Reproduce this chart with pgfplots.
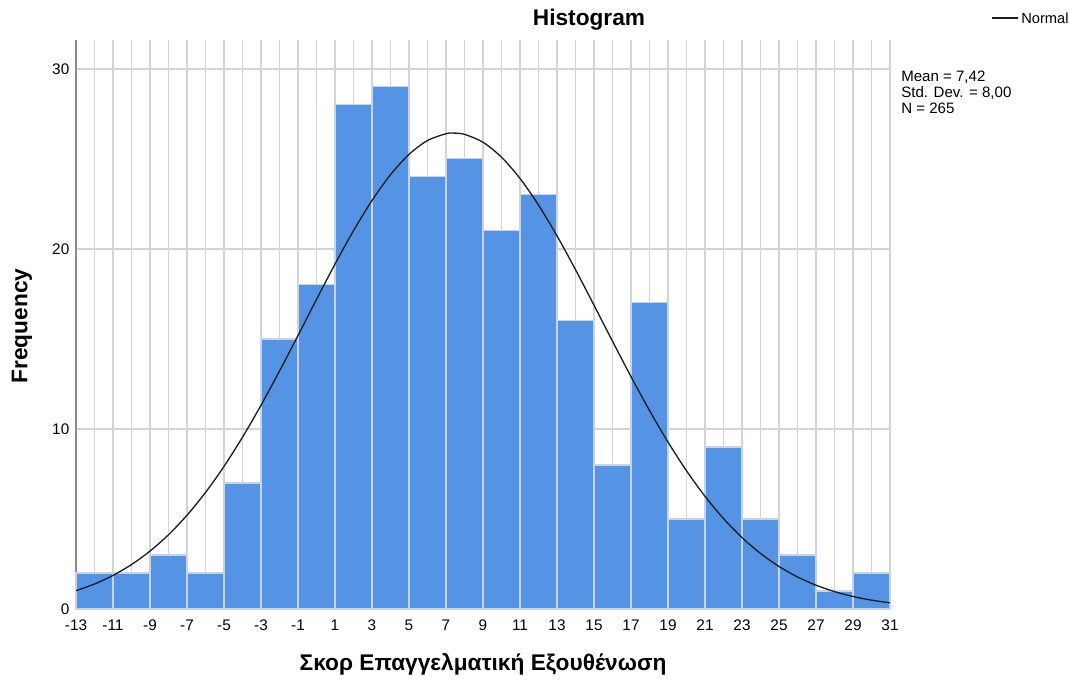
\documentclass[border=0pt]{standalone}
\usepackage{fontspec}
\setmainfont{Liberation Sans}
\usepackage{pgfplots}
\pgfplotsset{compat=1.18}

\definecolor{barblue}{RGB}{85,148,228}
\definecolor{baredge}{RGB}{200,212,230}
\definecolor{gridgray}{RGB}{212,212,212}

\begin{document}
\begin{tikzpicture}
\useasboundingbox (0,0) rectangle (802.5pt,509.25pt);
\begin{axis}[
  at={(57pt,52.5pt)}, anchor=south west,
  scale only axis,
  width=610.5pt, height=426.75pt,
  xmin=-13, xmax=31, ymin=0, ymax=31.6,
  axis lines*=left,
  x axis line style={-, draw={rgb,255:red,185;green,185;blue,185}, line width=1.1pt},
  y axis line style={-, draw={rgb,255:red,140;green,140;blue,140}, line width=1.1pt},
  xtick={-13,-11,...,31},
  minor xtick={-12,-10,...,30},
  ytick={0,10,20,30},
  major tick length=0pt, minor tick length=0pt,
  xmajorgrids, xminorgrids, ymajorgrids,
  grid style={draw=gridgray, line width=1.1pt},
  minor grid style={draw=gridgray, line width=1.1pt},
  /pgf/number format/assume math mode=true,
  tick label style={font=\fontsize{11.5}{13}\selectfont},
  xticklabel style={yshift=-4.5pt},
  yticklabel style={xshift=-1.5pt},
  clip=false,
]
% histogram counts, bins of width 2
\addplot[ybar interval, fill=barblue, draw=baredge, line width=0.9pt] coordinates {
  (-13,2) (-11,2) (-9,3) (-7,2) (-5,7) (-3,15) (-1,18) (1,28) (3,29) (5,24)
  (7,25) (9,21) (11,23) (13,16) (15,8) (17,17) (19,5) (21,9) (23,5) (25,3)
  (27,1) (29,2) (31,2)
};
% fitted normal curve (mean 7.42, sd 8.00, N 265, bin width 2)
\addplot[smooth, draw={rgb,255:red,30;green,30;blue,30}, line width=1pt] coordinates {
  (-13,1.017) (-12,1.389) (-11,1.866) (-10,2.468) (-9,3.216) (-8,4.124)
  (-7,5.207) (-6,6.472) (-5,7.920) (-4,9.541) (-3,11.316) (-2,13.213)
  (-1,15.190) (0,17.191) (1,19.154) (2,21.009) (3,22.689) (4,24.121)
  (5,25.248) (6,26.017) (7,26.394) (7.42,26.43) (8,26.360) (9,25.920)
  (10,25.091) (11,23.912) (12,22.435) (13,20.723) (14,18.845) (15,16.871)
  (16,14.870) (17,12.904) (18,11.023) (19,9.271) (20,7.676) (21,6.257)
  (22,5.022) (23,3.967) (24,3.086) (25,2.363) (26,1.781) (27,1.322)
  (28,0.966) (29,0.695) (30,0.492) (31,0.343)
};
\end{axis}
\begin{scope}[x=0.75pt, y=0.75pt]
  \node[font=\fontsize{17}{20}\selectfont\bfseries] at (589,659) {Histogram};
  \node[font=\fontsize{17}{20}\selectfont\bfseries] at (483,15) {Σκορ Επαγγελματική Εξουθένωση};
  \node[font=\fontsize{17}{20}\selectfont\bfseries, rotate=90] at (22,353) {Frequency};
  \draw[draw={rgb,255:red,30;green,30;blue,30}, line width=1pt] (992,661) -- (1018,661);
  \node[anchor=west, inner sep=0pt, font=\fontsize{11}{12}\selectfont] at (1021,661) {Normal};
  \node[anchor=north west, inner sep=0pt, align=left, font=\fontsize{11.3}{12}\selectfont] at (901,608)
    {Mean = 7,42\\Std. Dev. = 8,00\\N = 265};
\end{scope}
\end{tikzpicture}
\end{document}
